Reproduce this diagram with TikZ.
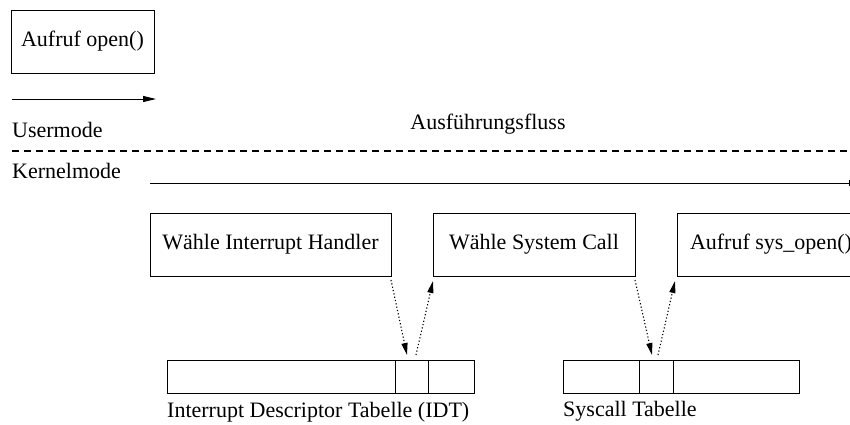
\documentclass[tikz,border=0pt]{standalone}
\usepackage{fontspec}
\setmainfont{Liberation Serif}
\usetikzlibrary{arrows.meta,calc}
\begin{document}
\begin{tikzpicture}[x=1pt,y=-1pt,
  txt/.style={font=\fontsize{22}{26}\selectfont, inner sep=0pt},
  box/.style={draw, line width=0.9pt, minimum height=63pt, inner sep=0pt, outer sep=0pt, anchor=north west, font=\fontsize{22}{26}\selectfont},
  cell/.style={draw, line width=0.9pt, minimum height=33pt, inner sep=0pt, outer sep=0pt, anchor=north west},
  solidarrow/.style={line width=0.9pt, -{Triangle[length=13pt,width=6pt]}},
  dotarrow/.style={line width=1.1pt, dash pattern=on 1.2pt off 2.2pt, -{Triangle[length=12pt,width=6pt]}},
  modeline/.style={line width=2.5pt, dash pattern=on 7pt off 5pt}]
\useasboundingbox (0,0) rectangle (850,424);
\clip (0,0) rectangle (850,424);

% top user-mode part
\node[box, minimum width=143pt] (open) at (11,10) {Aufruf open()};
\coordinate (ua) at (12,99);
\coordinate (ub) at (156,99);
\draw[solidarrow] (ua) -- (ub);
\node[txt, anchor=base west] (user) at (12,137) {Usermode};
\node[txt, anchor=base] (flow) at (488,129) {Ausführungsfluss};
\coordinate (da) at (12,151);
\coordinate (db) at (850,151);
\draw[modeline] (da) -- (db);
\node[txt, anchor=base west] (kern) at (12,178) {Kernelmode};
\coordinate (ka) at (150,183);
\coordinate (kb) at (862,183);
\draw[solidarrow] (ka) -- (kb);

% kernel boxes
\node[box, minimum width=241pt] (ih) at (150,213) {Wähle Interrupt Handler};
\node[box, minimum width=202pt] (sc) at (433,213) {Wähle System Call};
\node[box, inner xsep=13pt] (so) at (677,213) {Aufruf sys\_open()};

% IDT
\node[cell, minimum width=228pt] (idta) at (167,360) {};
\node[cell, minimum width=33pt] (idtb) at (395,360) {};
\node[cell, minimum width=46pt] (idtc) at (428,360) {};
\node[txt, anchor=base west] (idtl) at (167,417) {Interrupt Descriptor Tabelle (IDT)};

% Syscall table
\node[cell, minimum width=76pt] (sta) at (563,360) {};
\node[cell, minimum width=34pt] (stb) at (639,360) {};
\node[cell, minimum width=126pt] (stc) at (673,360) {};
\node[txt, anchor=base west] (stl) at (563,416) {Syscall Tabelle};

% dotted lookups
\draw[dotarrow] ($(ih.south east)+(0,4)$) -- ($(idtb.north west)+(12,-5)$);
\draw[dotarrow] ($(idtb.north west)+(21,-5)$) -- ($(sc.south west)+(0,5)$);
\draw[dotarrow] ($(sc.south east)+(0,4)$) -- ($(stb.north west)+(13,-5)$);
\draw[dotarrow] ($(stb.north west)+(19,-5)$) -- ($(so.south west)+(-2,5)$);
\end{tikzpicture}
\end{document}
